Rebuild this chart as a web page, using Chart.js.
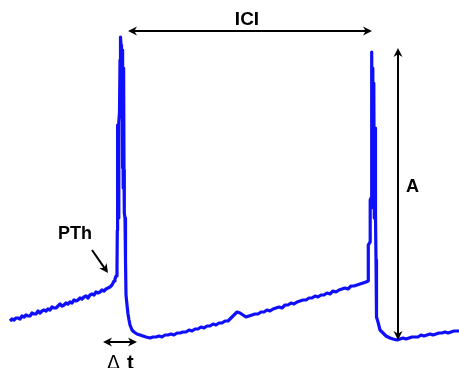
<!DOCTYPE html>
<html>
<head>
<meta charset="utf-8">
<script src="https://cdn.jsdelivr.net/npm/chart.js@4/dist/chart.umd.min.js"></script>
<style>
    html, body { margin: 0; padding: 0; background: #fff; }
    #wrap { width: 459px; height: 368px; position: relative; }
</style>
</head>
<body>
<div id="wrap"><canvas id="traceChart"></canvas></div>
<script>
// Trace, time on x, potential on y (arbitrary units)
const rampTime = [10, 12, 14, 16, 18, 20, 22, 24, 26, 28, 30, 32, 34, 36, 38, 40, 42, 44, 46, 48, 50, 52, 54, 56, 58, 60, 62, 64, 66, 68, 70, 72, 74, 76, 78, 80, 82, 84, 86, 88, 90, 92, 94, 96, 98, 100, 102, 104, 106, 108, 110, 112];
const rampValue = [47, 49, 48, 50, 50, 49, 52, 51, 53, 52, 52, 55, 54, 54, 57, 55, 57, 58, 57, 59, 58, 61, 60, 60, 62, 64, 62, 63, 65, 64, 66, 65, 68, 67, 68, 70, 69, 71, 72, 70, 73, 74, 73, 76, 75, 76, 78, 77, 79, 80, 81, 83];

const spike1Time = [113, 114, 115, 116, 117, 117.3, 117.6, 118.3, 118.8, 119.5, 120, 120.5, 121, 121.5, 122, 122.4, 122.8, 123.2, 123.6, 124, 124.3, 125, 125.5, 126, 127, 128, 129, 130, 132, 134, 137, 140, 143, 146];
const spike1Value = [85, 87, 89, 92, 100, 138, 243, 150, 246, 256, 308, 331, 323, 273, 318, 200, 310, 180, 300, 198, 155, 150, 108, 73, 63, 54, 48, 43, 38, 36, 34, 33, 32, 31];

const intervalTime = [150, 153, 156, 159, 162, 165, 168, 171, 174, 177, 180, 183, 186, 189, 192, 195, 198, 201, 204, 207, 210, 213, 216, 219, 222, 225, 228, 231, 234, 237, 240, 243, 246, 249, 252, 255, 258, 261, 264, 267, 270, 273, 276, 279, 282, 285, 288, 291, 294, 297, 300, 303, 306, 309, 312, 315, 318, 321, 324, 327, 330, 333, 336, 339, 342, 345, 348, 351, 354, 357, 360, 363, 366, 368];
const intervalValue = [30, 31, 31, 32, 31, 33, 33, 34, 33, 35, 35, 36, 36, 38, 37, 39, 39, 41, 40, 42, 42, 44, 43, 45, 45, 47, 47, 50, 53, 56, 55, 53, 51, 52, 53, 54, 54, 56, 56, 58, 57, 59, 60, 61, 60, 63, 63, 65, 64, 66, 67, 68, 68, 70, 70, 72, 71, 73, 73, 75, 74, 77, 76, 78, 79, 80, 79, 82, 82, 83, 84, 85, 86, 87];

const spike2Time = [368.3, 369, 370, 370.2, 371, 371.7, 372.3, 372.8, 373.3, 373.8, 374.3, 375, 375.5, 376, 376.5, 378, 380, 383, 386, 390, 393, 397, 400];
const spike2Value = [123, 124, 126, 168, 170, 316, 200, 300, 160, 285, 150, 240, 151, 108, 51, 46, 38, 35, 32, 30, 29, 28, 29];

const tailTime = [403, 406, 409, 412, 415, 418, 421, 424, 427, 430, 433, 436, 439, 442, 445, 448, 451, 454, 457, 459];
const tailValue = [30, 29, 30, 31, 31, 31, 33, 32, 33, 34, 33, 34, 35, 35, 36, 35, 36, 37, 37, 37];

const allTime = [...rampTime, ...spike1Time, ...intervalTime, ...spike2Time, ...tailTime];
const allValue = [...rampValue, ...spike1Value, ...intervalValue, ...spike2Value, ...tailValue];
const tracePoints = allTime.map((t, i) => ({ x: t, y: allValue[i] }));

// Annotation labels and arrows, in data units
const arrows = [
    { from: [128, 337], to: [372, 337], both: true },   // ICI
    { from: [398, 320], to: [398, 28], both: true },    // A
    { from: [92, 118], to: [108, 95], both: false },    // PTh
    { from: [103, 26], to: [137, 26], both: true }      // delta t
];
const labels = [
    { text: 'ICI', x: 247, y: 348, size: 19 },
    { text: 'A', x: 412.5, y: 181, size: 18 },
    { text: 'PTh', x: 75, y: 134, size: 18 }
];

function drawHead(ctx, x1, y1, x2, y2) {
    const ang = Math.atan2(y2 - y1, x2 - x1);
    const len = 9, half = 4.5;
    ctx.save();
    ctx.translate(x2, y2);
    ctx.rotate(ang);
    ctx.beginPath();
    ctx.moveTo(0, 0);
    ctx.lineTo(-len, -half);
    ctx.lineTo(-len * 0.7, 0);
    ctx.lineTo(-len, half);
    ctx.closePath();
    ctx.fill();
    ctx.restore();
}

const annotationPlugin = {
    id: 'annotations',
    afterDraw(chart) {
        const ctx = chart.ctx;
        const xs = chart.scales.x, ys = chart.scales.y;
        ctx.save();
        ctx.strokeStyle = '#000';
        ctx.fillStyle = '#000';
        ctx.lineWidth = 2;
        arrows.forEach(a => {
            const x1 = xs.getPixelForValue(a.from[0]), y1 = ys.getPixelForValue(a.from[1]);
            const x2 = xs.getPixelForValue(a.to[0]), y2 = ys.getPixelForValue(a.to[1]);
            const ang = Math.atan2(y2 - y1, x2 - x1);
            const sx = a.both ? x1 + Math.cos(ang) * 6 : x1;
            const sy = a.both ? y1 + Math.sin(ang) * 6 : y1;
            ctx.beginPath();
            ctx.moveTo(sx, sy);
            ctx.lineTo(x2 - Math.cos(ang) * 6, y2 - Math.sin(ang) * 6);
            ctx.stroke();
            drawHead(ctx, x1, y1, x2, y2);
            if (a.both) drawHead(ctx, x2, y2, x1, y1);
        });
        ctx.textAlign = 'center';
        ctx.textBaseline = 'middle';
        labels.forEach(l => {
            ctx.font = 'bold ' + l.size + 'px "Liberation Sans", Arial, sans-serif';
            ctx.fillText(l.text, xs.getPixelForValue(l.x), ys.getPixelForValue(l.y));
        });
        // delta t: thin delta, bold t
        ctx.textBaseline = 'alphabetic';
        ctx.textAlign = 'left';
        ctx.font = '19px "DejaVu Sans", sans-serif';
        ctx.fillText('\u0394', xs.getPixelForValue(107), ys.getPixelForValue(-1));
        ctx.font = 'bold 20px "Liberation Sans", Arial, sans-serif';
        ctx.fillText('t', xs.getPixelForValue(127), ys.getPixelForValue(-1));
        ctx.restore();
    }
};

new Chart(
    document.getElementById('traceChart'),
    {
        type: 'scatter',
        data: {
            datasets: [
                {
                    label: 'Membrane potential',
                    data: tracePoints,
                    showLine: true,
                    borderColor: 'rgb(15, 15, 250)',
                    borderWidth: 3.2,
                    borderJoinStyle: 'round',
                    pointRadius: 0,
                    tension: 0
                }
            ]
        },
        options: {
            responsive: true,
            maintainAspectRatio: false,
            animation: false,
            layout: { padding: 0 },
            scales: {
                x: { type: 'linear', min: 0, max: 459, display: false },
                y: { type: 'linear', min: 0, max: 368, display: false }
            },
            plugins: {
                legend: { display: false },
                tooltip: { enabled: false }
            }
        },
        plugins: [annotationPlugin]
    }
);
</script>
</body>
</html>
